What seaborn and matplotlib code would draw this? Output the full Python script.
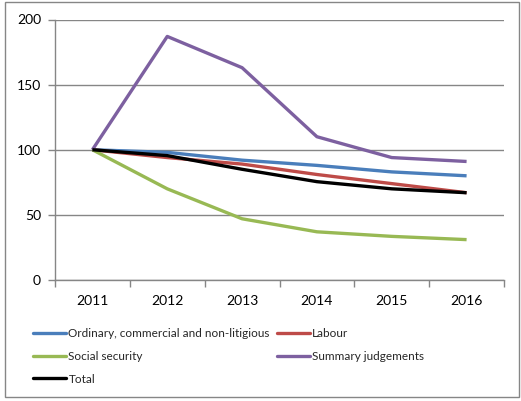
import matplotlib
matplotlib.use("Agg")
import matplotlib.pyplot as plt
from matplotlib.lines import Line2D
from matplotlib.patches import Rectangle
import seaborn as sns
import pandas as pd

years = ["2011", "2012", "2013", "2014", "2015", "2016"]
ordinary = [100, 98, 92, 88, 83, 80]
labour = [100, 94, 89, 81, 74, 67]
social_security = [100, 70, 47, 37, 33.5, 31]
summary_judgements = [100, 187, 163, 110, 94, 91]
total = [100, 95.5, 85, 75.5, 70, 67]

series_names = [
    "Ordinary, commercial and non-litigious",
    "Labour",
    "Social security",
    "Summary judgements",
    "Total",
]
series_values = [ordinary, labour, social_security, summary_judgements, total]
colors = ["#4A7EBB", "#BE4B48", "#98B954", "#7D60A0", "#000000"]

rows = []
for name, vals in zip(series_names, series_values):
    for i, (yr, v) in enumerate(zip(years, vals)):
        rows.append({"series": name, "pos": i, "year": yr, "value": v})
df = pd.DataFrame(rows)

sns.set_theme(style="white")
plt.rcParams["font.family"] = ["Lato", "DejaVu Sans"]

W, H = 521, 401
fig = plt.figure(figsize=(W / 100, H / 100), dpi=100)
fig.patch.set_facecolor("white")

# outer chart frame
fig.add_artist(Rectangle((5 / W, 1 - 397 / H), 514 / W, 395 / H,
                         transform=fig.transFigure, fill=False,
                         edgecolor="#868686", linewidth=1.0))

ax = fig.add_axes([55 / W, 1 - 280 / H, 449 / W, 260.5 / H])
palette = dict(zip(series_names, colors))
sns.lineplot(data=df, x="pos", y="value", hue="series", palette=palette,
             hue_order=series_names, linewidth=2.4, ax=ax, legend=False,
             sort=False)
for line in ax.get_lines():
    line.set_solid_capstyle("butt")

ax.set_xlim(-0.5, 5.5)
ax.set_ylim(0, 200)
ax.set_yticks([0, 50, 100, 150, 200])
ax.set_xticks(range(len(years)))
ax.set_xticklabels(years)
ax.set_xticks([i - 0.5 for i in range(len(years) + 1)], minor=True)
ax.set_xlabel("")
ax.set_ylabel("")

for s in ["top", "right"]:
    ax.spines[s].set_visible(False)
for s in ["left", "bottom"]:
    ax.spines[s].set_color("#868686")
    ax.spines[s].set_linewidth(1.0)

ax.yaxis.grid(True, color="#868686", linewidth=1.0)
ax.set_axisbelow(True)
ax.tick_params(axis="x", which="major", length=0, pad=11, labelsize=10,
               labelcolor="#000000")
ax.tick_params(axis="x", which="minor", bottom=True, length=5, width=1.0,
               color="#868686", direction="out")
ax.tick_params(axis="y", which="major", left=True, length=5, width=1.0,
               color="#868686", direction="out", pad=5, labelsize=10,
               labelcolor="#000000")

handles = [Line2D([0], [0], color=c, linewidth=2.4) for c in colors]
order = [0, 2, 4, 1, 3]
fig.legend([handles[i] for i in order], [series_names[i] for i in order],
           ncol=2, loc="upper left", bbox_to_anchor=(33 / W, 1 - 328 / H),
           frameon=False, fontsize=8.5, handlelength=2.8, handletextpad=0.2,
           columnspacing=0.6, labelspacing=1.0, borderpad=0,
           borderaxespad=0)

fig.savefig("out.png", dpi=100, facecolor="white")
